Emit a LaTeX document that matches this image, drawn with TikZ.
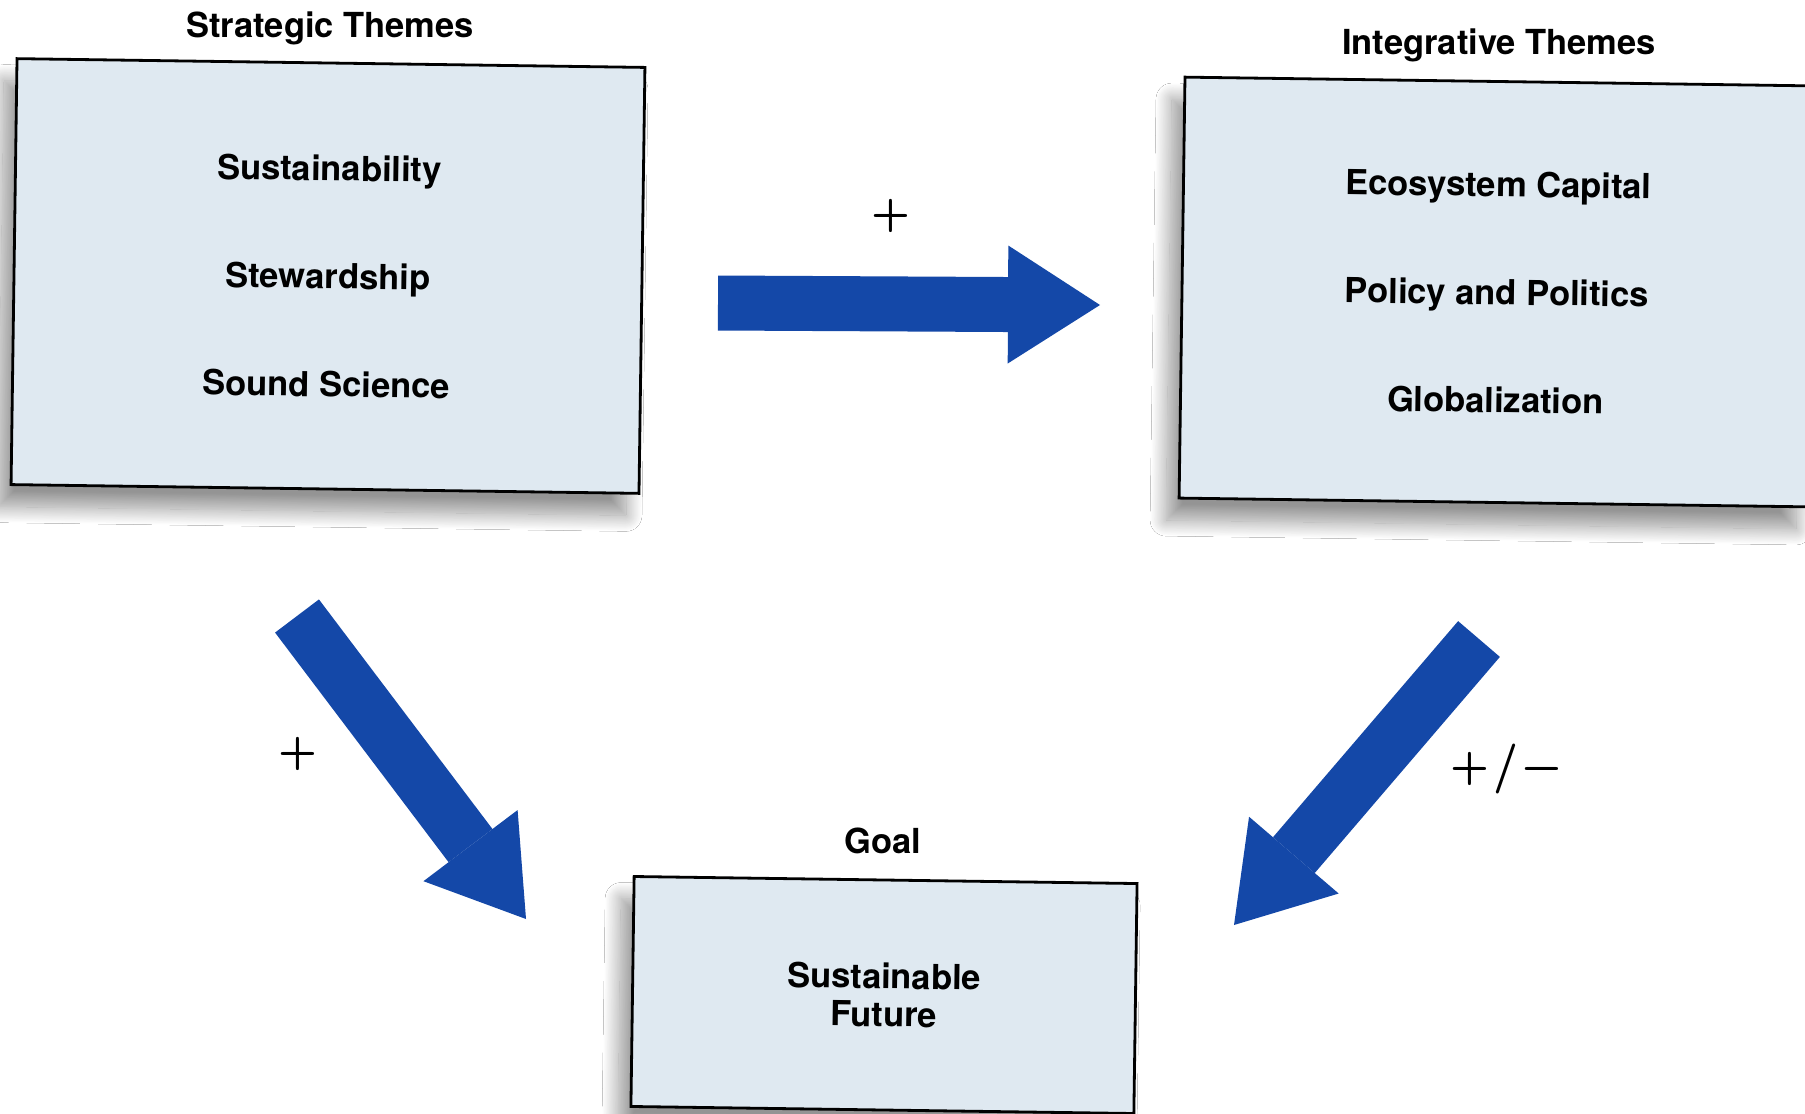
\documentclass[tikz,border=0pt]{standalone}
\usepackage{fontspec}
\setmainfont{TeX Gyre Heros}
\newfontfamily\signfont{lmromandemi10-regular.otf}
\usetikzlibrary{arrows.meta,shadows.blur}
\definecolor{boxfill}{RGB}{223,233,241}
\definecolor{arrowblue}{RGB}{20,72,168}
\begin{document}
\begin{tikzpicture}[x=1pt,y=-1pt,
  themebox/.style={draw=black, line width=2.8pt, fill=boxfill, rotate=-0.8,
    inner sep=0pt, align=center,
    font=\fontsize{34.5}{108}\bfseries\selectfont,
    blur shadow={shadow xshift=-13pt, shadow yshift=-22pt,
      shadow blur radius=16pt, shadow blur steps=24, shadow opacity=42}},
  title/.style={font=\fontsize{34.5}{40}\bfseries\selectfont},
  sign/.style={font=\fontsize{50}{50}\signfont},
  bigarrow/.style={draw=arrowblue, line width=55pt,
    -{Triangle[length=92pt,width=118pt,line width=0pt]}}
]
\useasboundingbox (0,0) rectangle (1805,1114);
\fill[white] (0,0) rectangle (1805,1114);
\clip (0,0) rectangle (1805,1114);

% boxes
\node[themebox, minimum width=628pt, minimum height=426pt] (strat) at (328,276)
  {Sustainability\\Stewardship\\Sound Science};
\node[themebox, minimum width=630pt, minimum height=421pt] (integ) at (1497,292)
  {Ecosystem Capital\\Policy and Politics\\Globalization};
\node[themebox, minimum width=503pt, minimum height=230pt,
  font=\fontsize{34.5}{38}\bfseries\selectfont] (goal) at (884,995)
  {Sustainable\\Future};

% titles
\node[title] (stratT) at (330,28) {Strategic Themes};
\node[title] (integT) at (1499,45) {Integrative Themes};
\node[title] (goalT) at (883,841) {Goal};

% arrows
\coordinate (hS) at (718,303);
\coordinate (hT) at (1100,305);
\coordinate (lS) at (297,616);
\coordinate (lT) at (526,919);
\coordinate (rS) at (1479,639);
\coordinate (rT) at (1234,925);
\draw[bigarrow] (hS) -- (hT);
\draw[bigarrow] (lS) -- (lT);
\draw[bigarrow] (rS) -- (rT);

% signs
\node[sign] (pH) at (891,216) {+};
\node[sign] (pL) at (298,754) {+};
\node[sign] (pR) at (1506,769) {+\kern4pt/\kern4pt−};
\end{tikzpicture}
\end{document}
